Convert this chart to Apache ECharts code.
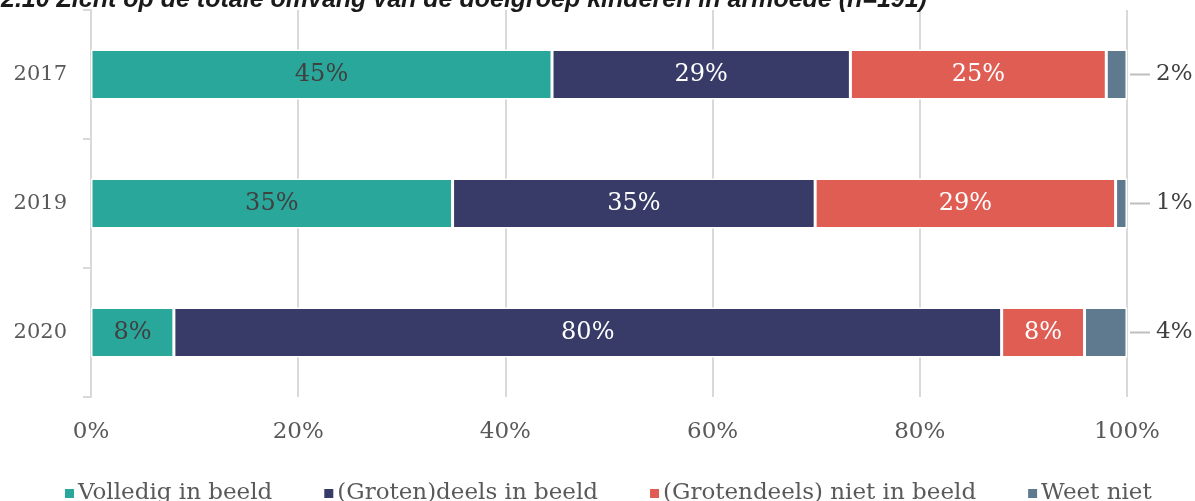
<!DOCTYPE html>
<html>
<head>
<meta charset="utf-8">
<script src="https://cdn.jsdelivr.net/npm/echarts@6/dist/echarts.min.js"></script>
<style>
  html, body { margin: 0; padding: 0; background: #fff; }
  #chart { width: 1195px; height: 501px; }
</style>
</head>
<body>
<div id="chart"></div>
<script>
const years = ['2017', '2019', '2020']
const volledig = [44.5, 34.9, 8.0]
const deels = [28.8, 35.0, 79.9]
const niet = [24.7, 29.0, 8.0]
const weetNiet = [2.0, 1.1, 4.1]
const xTicks = [0, 20, 40, 60, 80, 100]

const serif = 'DejaVu Serif'
const grey = '#595959'

const pct = (p) => Math.round(p.value) + '%'

const barSeries = (name, data, color, labelColor) => ({
  name: name,
  type: 'bar',
  stack: 'total',
  barWidth: 50,
  data: data,
  itemStyle: { color: color, borderColor: '#fff', borderWidth: 1.5 },
  label: {
    show: true,
    position: 'inside',
    formatter: pct,
    color: labelColor,
    fontFamily: serif,
    fontSize: 24,
  },
})

const chart = echarts.init(document.getElementById('chart'))
chart.setOption({
  animation: false,
  title: {
    text: '2.10 Zicht op de totale omvang van de doelgroep kinderen in armoede (n=191)',
    left: -4,
    top: -17,
    textStyle: {
      fontFamily: 'Liberation Sans',
      fontStyle: 'italic',
      fontWeight: 'bold',
      fontSize: 25,
      color: '#1a1a1a',
    },
  },
  grid: { left: 91, right: 68, top: 10, bottom: 104 },
  legend: {
    bottom: -9,
    left: 58,
    itemWidth: 11,
    itemHeight: 11,
    itemGap: 50,
    icon: 'rect',
    textStyle: { fontFamily: serif, fontSize: 23, color: grey, padding: [0, 0, 0, -2] },
  },
  xAxis: {
    type: 'value',
    min: xTicks[0],
    max: xTicks[xTicks.length - 1],
    interval: 20,
    axisLine: { show: false },
    axisTick: { show: false },
    splitLine: { lineStyle: { color: '#d9d9d9', width: 2 } },
    axisLabel: {
      margin: 24,
      formatter: '{value}%',
      fontFamily: serif,
      fontSize: 23,
      color: grey,
    },
  },
  yAxis: {
    type: 'category',
    inverse: true,
    data: years,
    axisLine: { lineStyle: { color: '#d9d9d9', width: 2 } },
    axisTick: { show: true, length: 8, lineStyle: { color: '#d9d9d9', width: 2 } },
    axisLabel: { margin: 24, fontFamily: serif, fontSize: 21, color: grey },
  },
  series: [
    barSeries('Volledig in beeld', volledig, '#2aa79b', '#404040'),
    barSeries('(Groten)deels in beeld', deels, '#383b68', '#ffffff'),
    barSeries('(Grotendeels) niet in beeld', niet, '#df5d53', '#ffffff'),
    {
      name: 'Weet niet',
      type: 'bar',
      stack: 'total',
      barWidth: 50,
      data: weetNiet,
      itemStyle: { color: '#5f7a8e', borderColor: '#fff', borderWidth: 1.5 },
      label: {
        show: true,
        position: 'right',
        distance: 3,
        formatter: (p) => '{l|}{v|' + Math.round(p.value) + '%}',
        rich: {
          l: { width: 20, height: 2, backgroundColor: '#bfbfbf', verticalAlign: 'middle' },
          v: { fontFamily: serif, fontSize: 23, color: '#404040', padding: [0, 0, 0, 6], verticalAlign: 'middle' },
        },
      },
    },
  ],
})
</script>
</body>
</html>
